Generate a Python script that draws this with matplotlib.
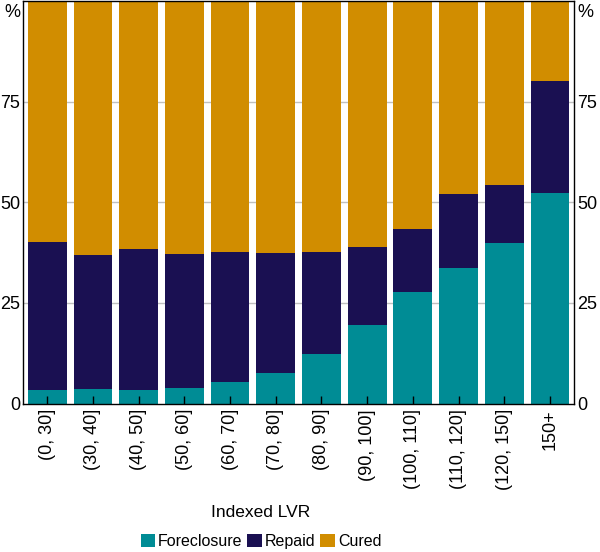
import matplotlib
matplotlib.use('Agg')
import matplotlib.pyplot as plt
import numpy as np

categories = ['(0, 30]', '(30, 40]', '(40, 50]', '(50, 60]', '(60, 70]', '(70, 80]',
              '(80, 90]', '(90, 100]', '(100, 110]', '(110, 120]', '(120, 150]', '150+']
foreclosure = [3.4, 3.6, 3.4, 3.9, 5.3, 7.6, 12.3, 19.5, 27.6, 33.6, 40.0, 52.4]
repaid = [36.8, 33.4, 35.1, 33.3, 32.4, 29.9, 25.4, 19.3, 15.7, 18.5, 14.3, 27.7]
cured = [100 - f - r for f, r in zip(foreclosure, repaid)]

plt.rcParams['font.family'] = ['Liberation Sans', 'DejaVu Sans']

c_fore = '#008C95'
c_rep = '#1A1052'
c_cur = '#D18D00'

fig = plt.figure(figsize=(6, 5.52), dpi=100)
ax = fig.add_axes([0.038, 0.269, 0.919, 0.729])

x = np.arange(len(categories))
w = 0.85
bottom2 = np.array(foreclosure)
bottom3 = bottom2 + np.array(repaid)
ax.bar(x, foreclosure, w, color=c_fore, label='Foreclosure', zorder=2)
ax.bar(x, repaid, w, bottom=bottom2, color=c_rep, label='Repaid', zorder=2)
ax.bar(x, cured, w, bottom=bottom3, color=c_cur, label='Cured', zorder=2)

for yv in [25, 50, 75]:
    ax.axhline(yv, color='#C0C0C0', lw=1, zorder=1)

ax.set_xlim(-0.535, 11.53)
ax.set_ylim(0, 100)
ax.set_xticks(x)
ax.set_xticklabels(categories, rotation=90, fontsize=13)
ax.tick_params(axis='x', direction='in', length=6, width=1, pad=4)
ax.set_yticks([0, 25, 50, 75])
ax.tick_params(axis='y', length=0, labelsize=13, pad=2, labelright=True)
ax.set_axisbelow(False)
for s in ax.spines.values():
    s.set_linewidth(1)
    s.set_zorder(3)

fig.text(0.02, 0.978, '%', fontsize=13, ha='center', va='center')
fig.text(0.975, 0.978, '%', fontsize=13, ha='center', va='center')

fig.text(0.435, 0.071, 'Indexed LVR', fontsize=12.5, ha='center', va='center')

fig.legend(loc='center', bbox_to_anchor=(0.435, 0.019), ncol=3, frameon=False, fontsize=11.5,
           handlelength=0.9, handleheight=0.9, handletextpad=0.2, columnspacing=0.3,
           borderaxespad=0)

fig.savefig('out.png', dpi=100)
